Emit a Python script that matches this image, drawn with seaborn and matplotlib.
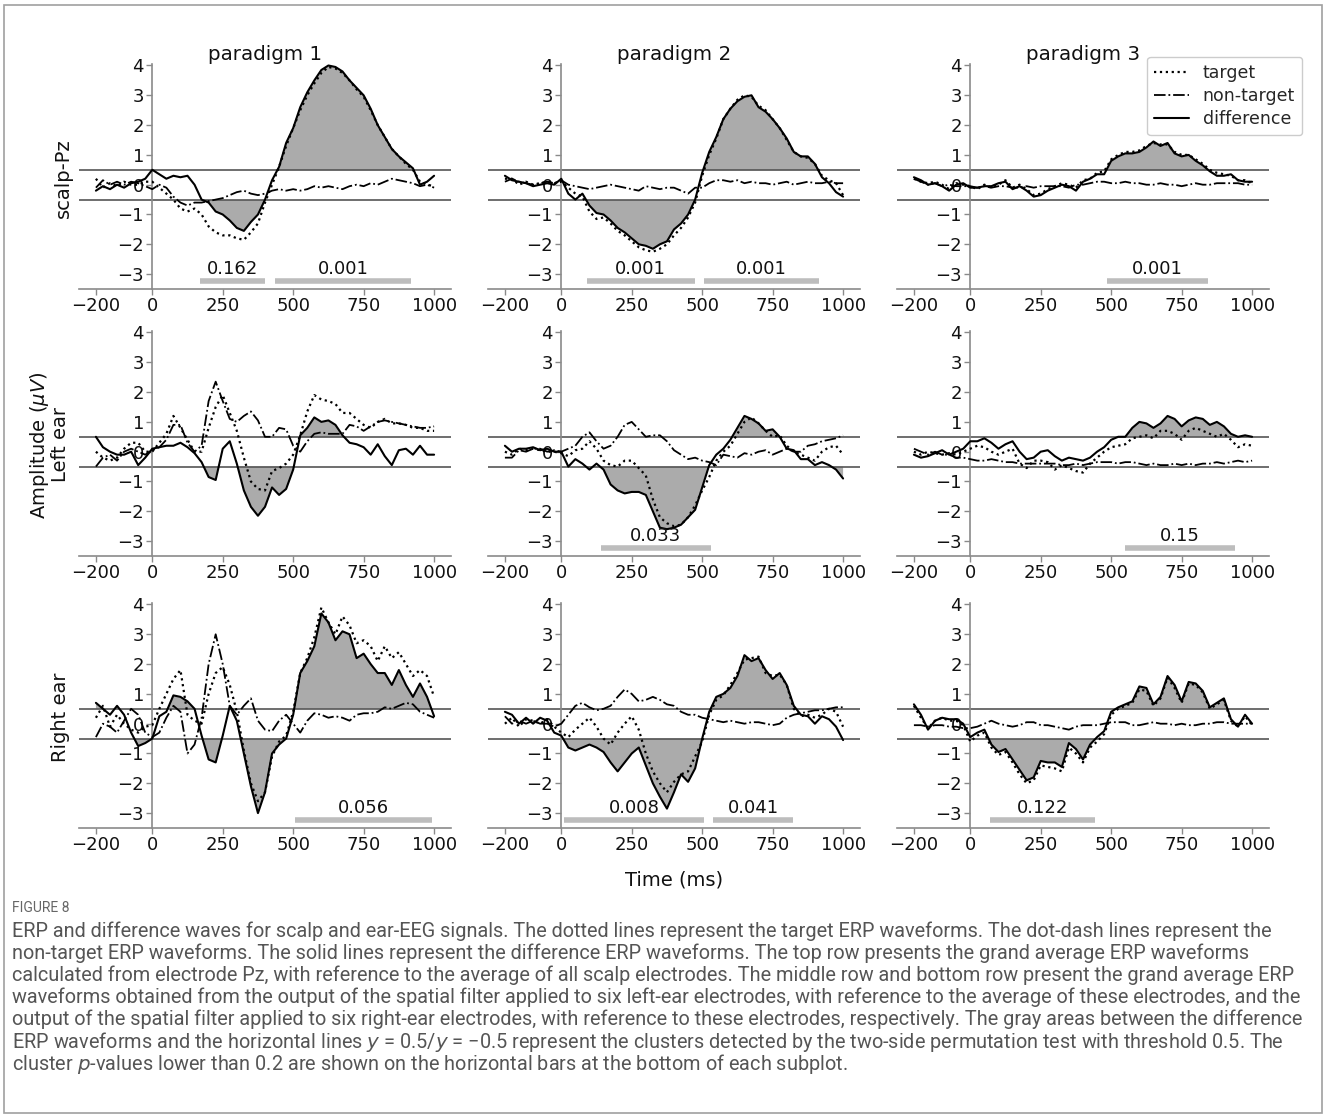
import numpy as np
import pandas as pd
import matplotlib
matplotlib.use("Agg")
import matplotlib.pyplot as plt
import seaborn as sns
from matplotlib.lines import Line2D
from matplotlib.patches import Rectangle

sns.set_theme(style="white")
plt.rcParams["font.family"] = ["DejaVu Sans"]

# ---------------- data (25 ms grid) ----------------
times = list(range(-200, 1001, 25))

# row 1: scalp-Pz
scalp_p1_target = [0.2, -0.1, 0.05, -0.05, 0.1, 0.0, 0.0, 0.1,
                   0.1, -0.1, -0.3, -0.5, -0.8, -0.9, -0.8, -1.0,
                   -1.4, -1.6, -1.7, -1.7, -1.8, -1.85, -1.6, -1.3,
                   -0.6, 0.0, 0.6, 1.3, 1.9, 2.5, 3.0, 3.4,
                   3.75, 3.95, 3.9, 3.75, 3.5, 3.2, 2.95, 2.5,
                   2.0, 1.6, 1.2, 0.95, 0.7, 0.5, 0.1, 0.0,
                   -0.05]
scalp_p1_nontarget = [-0.1, 0.15, 0.0, 0.1, 0.0, 0.1, 0.05, -0.05,
                      -0.15, 0.0, -0.1, -0.4, -0.6, -0.7, -0.6, -0.6,
                      -0.55, -0.5, -0.45, -0.35, -0.25, -0.2, -0.3, -0.35,
                      -0.3, -0.2, -0.15, -0.2, -0.15, -0.2, -0.15, -0.05,
                      -0.1, -0.05, -0.1, -0.15, -0.05, 0.0, -0.05, 0.05,
                      0.0, 0.1, 0.2, 0.15, 0.1, 0.05, -0.05, 0.0,
                      -0.1]
scalp_p1_difference = [-0.2, -0.05, -0.15, 0.0, -0.1, 0.05, 0.1, 0.2,
                       0.5, 0.35, 0.2, 0.3, 0.25, 0.3, 0.0, -0.5,
                       -0.6, -0.9, -1.0, -1.2, -1.45, -1.55, -1.25, -1.0,
                       -0.5, 0.15, 0.6, 1.4, 1.9, 2.6, 3.1, 3.5,
                       3.85, 4.0, 3.95, 3.8, 3.5, 3.25, 3.0, 2.55,
                       2.0, 1.6, 1.2, 0.95, 0.75, 0.55, 0.0, 0.1,
                       0.3]

scalp_p2_target = [0.2, 0.2, 0.0, 0.1, 0.0, 0.05, 0.1, 0.05,
                   0.1, -0.1, -0.3, -0.4, -0.9, -1.15, -1.1, -1.3,
                   -1.55, -1.7, -1.9, -2.1, -2.2, -2.25, -2.15, -2.0,
                   -1.7, -1.45, -1.1, -0.6, 0.3, 1.0, 1.55, 2.2,
                   2.55, 2.85, 3.0, 2.95, 2.65, 2.5, 2.2, 1.9,
                   1.5, 1.1, 0.95, 0.9, 0.7, 0.3, 0.15, 0.05,
                   -0.35]
scalp_p2_nontarget = [0.1, 0.2, 0.1, 0.05, 0.0, 0.05, 0.1, 0.05,
                      0.15, 0.0, -0.05, -0.1, -0.15, -0.1, -0.05, 0.0,
                      -0.05, -0.1, -0.15, -0.2, -0.05, -0.1, -0.15, -0.1,
                      -0.1, -0.2, -0.3, -0.1, -0.1, 0.05, 0.15, 0.15,
                      0.1, 0.15, 0.05, 0.1, 0.05, 0.05, 0.0, 0.05,
                      0.1, 0.0, 0.05, 0.1, 0.05, 0.05, 0.1, 0.05,
                      0.05]
scalp_p2_difference = [0.3, 0.15, 0.1, 0.05, -0.05, 0.0, 0.05, 0.0,
                       0.2, -0.3, -0.5, -0.3, -0.7, -0.95, -1.0, -1.2,
                       -1.45, -1.6, -1.8, -2.0, -2.05, -2.15, -2.0, -1.9,
                       -1.5, -1.3, -1.0, -0.5, 0.4, 1.1, 1.6, 2.2,
                       2.55, 2.8, 2.95, 3.0, 2.6, 2.45, 2.2, 1.9,
                       1.55, 1.1, 0.95, 0.95, 0.7, 0.25, 0.05, -0.25,
                       -0.4]

scalp_p3_target = [0.2, 0.1, 0.05, 0.1, 0.0, -0.15, 0.05, 0.0,
                   -0.05, -0.15, 0.0, -0.1, 0.0, 0.15, -0.1, 0.0,
                   -0.15, -0.35, -0.3, -0.15, -0.05, 0.05, 0.0, -0.1,
                   0.15, 0.2, 0.4, 0.45, 0.85, 1.0, 1.1, 1.1,
                   1.15, 1.3, 1.4, 1.35, 1.35, 1.1, 1.0, 1.0,
                   0.85, 0.7, 0.5, 0.4, 0.35, 0.3, 0.15, 0.15,
                   0.05]
scalp_p3_nontarget = [0.2, 0.1, 0.0, 0.05, -0.05, 0.0, -0.05, -0.05,
                      -0.05, -0.1, -0.05, -0.1, -0.05, -0.05, -0.1, -0.1,
                      -0.05, -0.1, -0.05, -0.05, -0.05, -0.05, -0.1, 0.0,
                      0.0, 0.05, 0.1, 0.1, 0.05, 0.05, 0.1, 0.05,
                      0.05, 0.0, 0.0, 0.05, 0.0, 0.0, -0.05, 0.0,
                      0.05, 0.0, 0.0, 0.05, 0.05, 0.05, 0.05, 0.0,
                      0.0]
scalp_p3_difference = [0.25, 0.15, 0.0, 0.05, -0.05, -0.2, 0.0, 0.05,
                       -0.1, -0.1, -0.05, -0.05, 0.05, 0.1, -0.15, -0.05,
                       -0.2, -0.4, -0.35, -0.2, -0.1, 0.0, -0.05, -0.2,
                       0.1, 0.2, 0.35, 0.35, 0.8, 0.95, 1.05, 1.05,
                       1.1, 1.25, 1.45, 1.3, 1.4, 1.05, 0.95, 1.0,
                       0.8, 0.65, 0.45, 0.3, 0.3, 0.35, 0.15, 0.1,
                       0.1]

# row 2: left ear
left_p1_target = [0.0, -0.2, -0.3, -0.2, 0.1, 0.3, 0.3, 0.0,
                  0.0, 0.3, 0.6, 1.2, 0.8, 0.4, 0.0, 0.0,
                  0.8, 1.5, 1.9, 1.3, 0.7, -0.2, -1.0, -1.25,
                  -1.3, -0.65, -0.55, -0.4, -0.1, 0.55, 1.35, 1.9,
                  1.75, 1.7, 1.6, 1.3, 1.3, 1.1, 0.9, 0.8,
                  1.0, 1.1, 0.95, 0.95, 0.9, 0.8, 0.8, 0.7,
                  0.7]
left_p1_nontarget = [-0.5, -0.2, -0.1, -0.3, 0.0, 0.1, 0.0, -0.1,
                     0.05, 0.15, 0.4, 0.9, 0.9, 0.3, 0.0, 0.2,
                     1.7, 2.35, 1.7, 1.1, 1.0, 1.2, 1.35, 1.05,
                     0.5, 0.5, 0.8, 0.75, 0.2, 0.0, 0.35, 0.6,
                     0.65, 0.6, 0.6, 0.6, 0.9, 0.85, 0.7, 0.85,
                     1.0, 1.05, 1.0, 0.95, 0.9, 0.85, 0.8, 0.8,
                     0.85]
left_p1_difference = [0.5, 0.15, 0.0, -0.1, -0.1, 0.0, -0.45, -0.2,
                      0.1, 0.15, 0.2, 0.2, 0.3, 0.15, -0.05, -0.35,
                      -0.85, -0.95, 0.1, 0.35, -0.4, -1.3, -1.85, -2.15,
                      -1.85, -1.2, -1.45, -1.25, -0.6, 0.55, 0.8, 1.15,
                      1.0, 1.05, 0.9, 0.55, 0.3, 0.25, 0.15, -0.1,
                      0.25, -0.15, -0.45, 0.05, 0.1, -0.1, 0.2, -0.1,
                      -0.1]

left_p2_target = [0.0, -0.1, 0.1, 0.05, 0.1, 0.05, 0.0, 0.0,
                  -0.05, -0.15, 0.05, 0.1, 0.35, 0.1, -0.3, -0.45,
                  -0.5, -0.3, -0.3, -0.55, -0.8, -1.6, -2.2, -2.4,
                  -2.5, -2.45, -2.2, -1.8, -1.3, -0.85, -0.3, 0.0,
                  0.2, 0.6, 1.0, 1.15, 0.95, 0.7, 0.5, 0.55,
                  0.2, 0.0, -0.1, -0.2, -0.3, 0.0, 0.15, 0.2,
                  -0.1]
left_p2_nontarget = [-0.2, -0.2, 0.05, 0.0, 0.1, 0.1, 0.0, 0.05,
                     0.0, 0.1, 0.2, 0.5, 0.65, 0.35, 0.1, 0.2,
                     0.5, 0.9, 1.0, 0.75, 0.5, 0.55, 0.55, 0.35,
                     0.05, -0.1, -0.25, -0.2, -0.3, -0.35, -0.45, -0.1,
                     -0.15, -0.2, -0.05, -0.1, 0.0, 0.05, -0.1, 0.0,
                     0.1, 0.0, 0.0, 0.2, 0.25, 0.35, 0.4, 0.45,
                     0.55]
left_p2_difference = [0.2, 0.0, 0.1, 0.1, 0.15, 0.05, 0.1, 0.0,
                      0.0, -0.5, -0.25, -0.4, -0.6, -0.4, -0.6, -1.1,
                      -1.3, -1.4, -1.35, -1.35, -1.45, -2.0, -2.55, -2.6,
                      -2.55, -2.45, -2.2, -1.95, -1.2, -0.45, -0.1, 0.1,
                      0.4, 0.8, 1.2, 1.1, 0.95, 0.7, 0.75, 0.5,
                      0.1, 0.05, -0.25, -0.25, -0.45, -0.35, -0.45, -0.6,
                      -0.9]

left_p3_target = [0.0, -0.1, 0.0, -0.05, -0.1, -0.05, -0.1, 0.0,
                  0.1, 0.2, 0.15, 0.0, -0.1, 0.0, 0.1, -0.4,
                  -0.55, -0.3, -0.3, -0.35, -0.6, -0.45, -0.55, -0.65,
                  -0.7, -0.4, -0.2, 0.0, 0.15, 0.2, 0.25, 0.45,
                  0.5, 0.55, 0.45, 0.7, 0.7, 0.6, 0.4, 0.7,
                  0.8, 0.7, 0.6, 0.5, 0.6, 0.4, 0.15, 0.25,
                  0.2]
left_p3_nontarget = [0.1, 0.0, -0.1, 0.0, -0.1, -0.1, -0.2, -0.2,
                     -0.25, -0.3, -0.3, -0.25, -0.3, -0.35, -0.35, -0.4,
                     -0.4, -0.4, -0.4, -0.4, -0.4, -0.45, -0.45, -0.4,
                     -0.45, -0.4, -0.35, -0.35, -0.35, -0.4, -0.35, -0.35,
                     -0.4, -0.45, -0.4, -0.45, -0.45, -0.4, -0.45, -0.4,
                     -0.45, -0.4, -0.4, -0.35, -0.4, -0.35, -0.3, -0.35,
                     -0.3]
left_p3_difference = [-0.1, -0.2, -0.15, -0.05, 0.05, -0.1, 0.0, 0.1,
                      0.35, 0.35, 0.45, 0.3, 0.1, 0.25, 0.35, 0.0,
                      -0.25, -0.2, 0.0, 0.05, -0.15, -0.3, -0.2, -0.25,
                      -0.3, -0.2, 0.0, 0.15, 0.4, 0.5, 0.5, 0.8,
                      1.0, 0.95, 0.8, 0.95, 1.2, 1.1, 0.85, 1.05,
                      1.15, 1.1, 0.9, 1.0, 0.85, 0.6, 0.5, 0.55,
                      0.5]

# row 3: right ear
right_p1_target = [0.2, 0.6, -0.1, 0.3, 0.0, -0.2, -0.3, -0.1,
                   -0.05, 0.5, 1.0, 1.5, 1.8, 0.3, 0.1, 0.0,
                   1.0, 1.7, 1.9, 1.3, 0.4, -0.9, -2.0, -2.6,
                   -2.3, -1.1, -0.6, -0.4, 0.4, 1.7, 2.2, 2.9,
                   3.9, 3.4, 3.0, 3.6, 3.3, 2.7, 2.8, 2.6,
                   2.1, 2.6, 2.2, 2.4, 2.0, 1.6, 1.8, 1.6,
                   0.9]
right_p1_nontarget = [-0.45, 0.0, -0.1, -0.3, 0.1, 0.5, 0.3, -0.3,
                      -0.45, -0.3, 0.2, 0.6, 0.4, -1.0, -0.7, 0.2,
                      2.0, 3.0, 2.0, 0.6, 0.3, 0.6, 0.85, 0.1,
                      -0.2, -0.25, 0.1, 0.3, 0.0, -0.3, 0.1, 0.35,
                      0.3, 0.2, 0.25, 0.2, 0.1, 0.3, 0.35, 0.35,
                      0.4, 0.55, 0.5, 0.6, 0.7, 0.65, 0.4, 0.3,
                      0.2]
right_p1_difference = [0.7, 0.5, 0.3, 0.6, 0.3, -0.3, -0.75, -0.65,
                       -0.5, 0.25, 0.4, 0.95, 0.9, 0.75, 0.5, -0.4,
                       -1.2, -1.3, -0.4, 0.6, 0.1, -1.0, -2.1, -3.0,
                       -2.3, -1.0, -0.7, -0.5, 0.3, 1.7, 2.1, 2.6,
                       3.7, 3.4, 2.8, 3.1, 3.0, 2.2, 2.35, 2.0,
                       1.7, 1.7, 1.3, 1.8, 1.3, 0.9, 1.35, 0.9,
                       0.25]

right_p2_target = [0.0, 0.2, -0.1, 0.15, 0.1, 0.0, 0.15, -0.1,
                   -0.3, -0.45, -0.2, 0.0, 0.2, -0.1, -0.5, -0.7,
                   -0.3, 0.0, 0.25, -0.2, -1.0, -1.6, -2.0, -2.3,
                   -1.95, -1.7, -1.6, -1.1, -0.6, 0.3, 0.8, 0.95,
                   1.3, 1.7, 2.15, 2.2, 2.25, 1.7, 1.6, 1.65,
                   1.3, 0.5, 0.25, 0.3, 0.2, 0.3, 0.5, 0.4,
                   -0.1]
right_p2_nontarget = [0.25, 0.0, 0.1, 0.0, 0.1, 0.0, 0.0, -0.1,
                      0.0, 0.3, 0.6, 0.7, 0.55, 0.45, 0.5, 0.6,
                      0.9, 1.15, 1.0, 0.75, 0.8, 0.9, 0.8, 0.65,
                      0.6, 0.4, 0.3, 0.3, 0.2, 0.15, 0.1, 0.05,
                      0.1, 0.05, 0.0, 0.05, 0.05, 0.0, -0.05, 0.0,
                      0.2, 0.3, 0.35, 0.4, 0.45, 0.45, 0.5, 0.55,
                      0.55]
right_p2_difference = [0.4, 0.3, 0.0, 0.2, 0.0, 0.2, 0.1, -0.3,
                       -0.4, -0.8, -0.9, -0.8, -0.7, -0.8, -0.95, -1.3,
                       -1.6, -1.3, -1.0, -0.8, -1.4, -2.0, -2.45, -2.85,
                       -2.3, -1.7, -1.95, -1.5, -0.5, 0.4, 0.9, 1.0,
                       1.2, 1.6, 2.3, 2.1, 2.2, 1.8, 1.5, 1.7,
                       1.3, 0.6, 0.3, 0.25, 0.0, 0.25, 0.15, -0.1,
                       -0.55]

right_p3_target = [0.6, 0.2, -0.15, 0.1, 0.2, 0.1, 0.1, -0.05,
                   -0.6, -0.4, -0.3, -0.8, -1.05, -0.95, -1.3, -1.7,
                   -2.0, -1.9, -1.4, -1.45, -1.5, -1.6, -0.8, -1.0,
                   -1.3, -0.8, -0.6, -0.35, 0.3, 0.5, 0.6, 0.7,
                   1.15, 1.1, 0.6, 0.85, 1.55, 1.2, 0.7, 1.35,
                   1.3, 1.05, 0.5, 0.65, 0.8, 0.1, -0.1, 0.25,
                   -0.05]
right_p3_nontarget = [-0.05, -0.05, -0.1, -0.05, -0.05, -0.1, -0.1, -0.15,
                      -0.15, -0.1, 0.0, 0.1, 0.0, -0.05, -0.1, -0.05,
                      0.05, 0.05, -0.05, -0.05, -0.1, -0.15, -0.2, -0.1,
                      -0.05, -0.05, -0.05, 0.0, 0.05, 0.05, 0.05, -0.05,
                      -0.05, 0.0, 0.05, 0.0, 0.0, -0.05, 0.0, -0.05,
                      -0.05, 0.0, 0.0, 0.05, 0.05, 0.0, 0.0, 0.0,
                      0.0]
right_p3_difference = [0.65, 0.3, -0.2, 0.1, 0.2, 0.15, 0.15, 0.0,
                       -0.45, -0.3, -0.2, -0.7, -0.95, -0.85, -1.2, -1.55,
                       -1.9, -1.8, -1.25, -1.3, -1.3, -1.45, -0.65, -0.85,
                       -1.2, -0.7, -0.45, -0.25, 0.4, 0.55, 0.65, 0.75,
                       1.25, 1.2, 0.65, 0.9, 1.6, 1.3, 0.75, 1.4,
                       1.35, 1.1, 0.55, 0.7, 0.85, 0.15, -0.1, 0.3,
                       0.0]

# cluster bars: (start ms, end ms, p-value label)
scalp_p1_clusters = [(170, 400, "0.162"), (437, 917, "0.001")]
scalp_p2_clusters = [(91, 473, "0.001"), (506, 914, "0.001")]
scalp_p3_clusters = [(485, 845, "0.001")]
left_p1_clusters = []
left_p2_clusters = [(140, 531, "0.033")]
left_p3_clusters = [(548, 938, "0.15")]
right_p1_clusters = [(505, 993, "0.056")]
right_p2_clusters = [(11, 508, "0.008"), (539, 823, "0.041")]
right_p3_clusters = [(70, 443, "0.122")]

column_titles = ["paradigm 1", "paradigm 2", "paradigm 3"]
x_ticks = [-200, 0, 250, 500, 750, 1000]
y_ticks = [-3, -2, -1, 0, 1, 2, 3, 4]
threshold = 0.5

panels = [
    [(scalp_p1_target, scalp_p1_nontarget, scalp_p1_difference, scalp_p1_clusters),
     (scalp_p2_target, scalp_p2_nontarget, scalp_p2_difference, scalp_p2_clusters),
     (scalp_p3_target, scalp_p3_nontarget, scalp_p3_difference, scalp_p3_clusters)],
    [(left_p1_target, left_p1_nontarget, left_p1_difference, left_p1_clusters),
     (left_p2_target, left_p2_nontarget, left_p2_difference, left_p2_clusters),
     (left_p3_target, left_p3_nontarget, left_p3_difference, left_p3_clusters)],
    [(right_p1_target, right_p1_nontarget, right_p1_difference, right_p1_clusters),
     (right_p2_target, right_p2_nontarget, right_p2_difference, right_p2_clusters),
     (right_p3_target, right_p3_nontarget, right_p3_difference, right_p3_clusters)],
]

# ---------------- layout ----------------
W, H = 1326, 1117
fig = plt.figure(figsize=(W / 100, H / 100), dpi=100)
fig.patch.set_facecolor("white")

col_left = [79, 488, 897]
row_top = [64, 331, 603]
ax_w, ax_h = 372, 225

TICK_FS = 13
fill_color = "#ababab"
bar_color = "#bdbdbd"

for r in range(3):
    for c in range(3):
        tgt, ntg, dif, clusters = panels[r][c]
        ax = fig.add_axes([col_left[c] / W, 1 - (row_top[r] + ax_h) / H, ax_w / W, ax_h / H])
        df = pd.DataFrame({"t": times, "target": tgt, "nontarget": ntg, "difference": dif})
        d = np.asarray(dif)
        ax.fill_between(df["t"], d, threshold, where=d > threshold, interpolate=True,
                        color=fill_color, lw=0, zorder=1)
        ax.fill_between(df["t"], d, -threshold, where=d < -threshold, interpolate=True,
                        color=fill_color, lw=0, zorder=1)
        ax.axhline(threshold, color="#555555", lw=1.2, zorder=2)
        ax.axhline(-threshold, color="#555555", lw=1.2, zorder=2)
        sns.lineplot(data=df, x="t", y="target", ax=ax, color="black", linestyle=":",
                     lw=1.6, estimator=None, zorder=3)
        sns.lineplot(data=df, x="t", y="nontarget", ax=ax, color="black", linestyle="-.",
                     lw=1.3, estimator=None, zorder=3)
        sns.lineplot(data=df, x="t", y="difference", ax=ax, color="black", linestyle="-",
                     lw=1.5, estimator=None, zorder=4)
        for (s, e, lab) in clusters:
            ax.plot([s, e], [-3.23, -3.23], color=bar_color, lw=4.0,
                    solid_capstyle="butt", zorder=2)
            ax.text((s + e) / 2, -3.0, lab, ha="center", va="baseline",
                    fontsize=TICK_FS, color="#111111", zorder=5)
        ax.set_xlim(-260, 1060)
        ax.set_ylim(-3.5, 4.05)
        ax.set_xticks(x_ticks)
        ax.set_yticks(y_ticks)
        ax.set_xlabel("")
        ax.set_ylabel("")
        ax.spines["top"].set_visible(False)
        ax.spines["right"].set_visible(False)
        ax.spines["left"].set_position(("data", 0))
        for sp in ("left", "bottom"):
            ax.spines[sp].set_color("#8a8a8a")
            ax.spines[sp].set_linewidth(1.2)
        ax.tick_params(axis="both", which="both", labelsize=TICK_FS, length=4, width=1,
                       color="#8a8a8a", labelcolor="#111111", left=True, bottom=True, pad=2)
        ax.set_facecolor("none")
        if r == 0:
            fig.text((col_left[c] + ax_w / 2) / W, 1 - 54 / H, column_titles[c],
                     ha="center", va="center", fontsize=14.3, color="#111111")

# row labels
LAB_FS = 14
fig.text(63 / W, 1 - 178 / H, "scalp-Pz", rotation=90, ha="center", va="center",
         fontsize=LAB_FS, color="#111111")
fig.text(49 / W, 1 - 445 / H, "Amplitude ($\\mu V$)\nLeft ear", rotation=90, ha="center",
         va="center", fontsize=LAB_FS, color="#111111", multialignment="center",
         linespacing=1.0)
fig.text(60 / W, 1 - 717 / H, "Right ear", rotation=90, ha="center", va="center",
         fontsize=LAB_FS, color="#111111")
fig.text((col_left[1] + ax_w / 2) / W, 1 - 880 / H, "Time (ms)", ha="center", va="center",
         fontsize=LAB_FS, color="#111111")

# legend
handles = [Line2D([], [], color="black", linestyle=":", lw=1.6, label="target"),
           Line2D([], [], color="black", linestyle="-.", lw=1.3, label="non-target"),
           Line2D([], [], color="black", linestyle="-", lw=1.5, label="difference")]
fig.legend(handles=handles, loc="upper right", bbox_to_anchor=(1302 / W, 1 - 57 / H),
           bbox_transform=fig.transFigure, fontsize=12.5, frameon=True,
           edgecolor="#cccccc", fancybox=True, framealpha=1, borderaxespad=0,
           handlelength=2.0, labelspacing=0.3, borderpad=0.4)

# caption
cap_color = "#555555"
fig.text(12 / W, 1 - 908 / H, "FIGURE 8", ha="left", va="center", fontsize=10,
         color="#666666", family=["Roboto", "DejaVu Sans"])
caption_lines = [
    "ERP and difference waves for scalp and ear-EEG signals. The dotted lines represent the target ERP waveforms. The dot-dash lines represent the",
    "non-target ERP waveforms. The solid lines represent the difference ERP waveforms. The top row presents the grand average ERP waveforms",
    "calculated from electrode Pz, with reference to the average of all scalp electrodes. The middle row and bottom row present the grand average ERP",
    "waveforms obtained from the output of the spatial filter applied to six left-ear electrodes, with reference to the average of these electrodes, and the",
    "output of the spatial filter applied to six right-ear electrodes, with reference to these electrodes, respectively. The gray areas between the difference",
    "ERP waveforms and the horizontal lines $y$ = 0.5/$y$ = \u22120.5 represent the clusters detected by the two-side permutation test with threshold 0.5. The",
    "cluster $p$-values lower than 0.2 are shown on the horizontal bars at the bottom of each subplot.",
]
cap_texts = []
for i, line in enumerate(caption_lines):
    cap_texts.append(fig.text(12 / W, 1 - (931 + 22.1 * i) / H, line, ha="left", va="center",
                              fontsize=12, color=cap_color, family=["Roboto", "DejaVu Sans"]))
fig.canvas.draw()
rend = fig.canvas.get_renderer()
widest = max(t.get_window_extent(rend).width for t in cap_texts)
scale = 1293 / widest
for t in cap_texts:
    t.set_fontsize(t.get_fontsize() * scale)

# outer frame
fig.patches.append(Rectangle((4 / W, 4 / H), 1318 / W, 1108 / H, transform=fig.transFigure,
                             fill=False, edgecolor="#a0a0a0", lw=1.2))

fig.savefig("out.png", dpi=100, facecolor="white")
